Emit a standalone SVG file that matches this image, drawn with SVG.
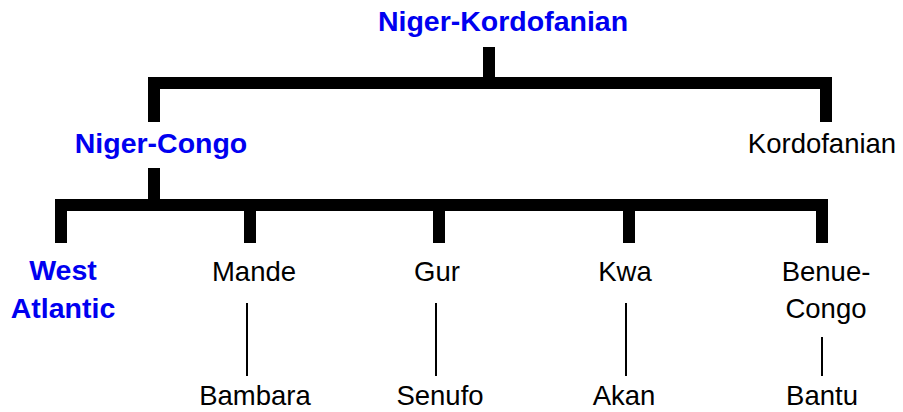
<svg xmlns="http://www.w3.org/2000/svg" width="903" height="412" viewBox="0 0 903 412">
<style>
text{font-family:"Liberation Sans",Arial,Helvetica,sans-serif;text-anchor:middle}
.b{font-weight:bold;font-size:28.5px;fill:#0000f0}
.r{font-size:27.5px;fill:#000}
.thick{fill:none;stroke:#000;stroke-width:12;stroke-linecap:butt;stroke-linejoin:miter}
.thin{stroke:#000;stroke-width:2}
</style>
<rect width="903" height="412" fill="#fff"/>
<g id="connectors">
<line class="thick" x1="489" y1="47" x2="489" y2="83"/>
<path class="thick" d="M154,122 V83 H826 V122"/>
<line class="thick" x1="154" y1="168" x2="154" y2="205"/>
<path class="thick" d="M61,243 V205 H822 V243"/>
<line class="thick" x1="250" y1="205" x2="250" y2="243"/>
<line class="thick" x1="439" y1="205" x2="439" y2="243"/>
<line class="thick" x1="629" y1="205" x2="629" y2="243"/>
<line class="thin" x1="247" y1="303" x2="247" y2="376"/>
<line class="thin" x1="436" y1="303" x2="436" y2="376"/>
<line class="thin" x1="626" y1="303" x2="626" y2="376"/>
<line class="thin" x1="822" y1="337" x2="822" y2="376"/>
</g>
<g id="niger-kordofanian"><text class="b" x="503" y="31">Niger-Kordofanian</text></g>
<g id="niger-congo"><text class="b" x="161" y="153">Niger-Congo</text></g>
<g id="kordofanian"><text class="r" x="822" y="153">Kordofanian</text></g>
<g id="west-atlantic"><text class="b" x="63" y="280">West</text><text class="b" x="63" y="318">Atlantic</text></g>
<g id="mande"><text class="r" x="254" y="281">Mande</text></g>
<g id="gur"><text class="r" x="437" y="281">Gur</text></g>
<g id="kwa"><text class="r" x="625" y="281">Kwa</text></g>
<g id="benue-congo"><text class="r" x="826" y="281">Benue-</text><text class="r" x="826" y="318">Congo</text></g>
<g id="bambara"><text class="r" x="255" y="405">Bambara</text></g>
<g id="senufo"><text class="r" x="440" y="405">Senufo</text></g>
<g id="akan"><text class="r" x="624" y="405">Akan</text></g>
<g id="bantu"><text class="r" x="822" y="405">Bantu</text></g>
</svg>
